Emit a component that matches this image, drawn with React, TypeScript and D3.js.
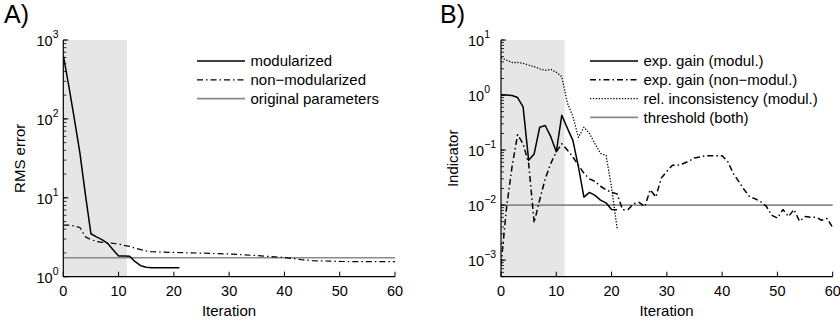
import * as d3 from 'd3';

// Panel A: RMS error per iteration
const modularizedA: [number, number][] = [
  [0, 640], [1, 260], [2, 100], [3, 37], [4, 11], [5, 3.5], [6, 3.2], [7, 2.95], [8, 2.65],
  [9, 2.2], [10, 1.83], [11, 1.83], [12, 1.82], [13, 1.55], [14, 1.38], [15, 1.32], [16, 1.3],
  [17, 1.3], [18, 1.3], [19, 1.3], [20, 1.3], [21, 1.3],
];
const nonModularizedA: [number, number][] = [
  [0, 4.5], [1, 4.5], [2, 4.4], [3, 4.2], [4, 3.2], [5, 2.95], [6, 2.8], [7, 2.72], [8, 2.7],
  [9, 2.65], [10, 2.6], [11, 2.5], [12, 2.42], [13, 2.3], [14, 2.2], [15, 2.12], [16, 2.07],
  [20, 2.03], [25, 1.99], [30, 1.94], [35, 1.85], [40, 1.75], [43, 1.65], [45, 1.6], [50, 1.56],
  [55, 1.55], [60, 1.55],
];
const originalParams = 1.74;

// Panel B: indicators per iteration
const gainModul: [number, number][] = [
  [0, 1.0], [1, 1.0], [2, 0.98], [3, 0.9], [4, 0.61], [5, 0.065], [6, 0.085], [7, 0.26],
  [8, 0.28], [9, 0.175], [10, 0.093], [11, 0.43], [12, 0.25], [13, 0.15], [14, 0.05],
  [15, 0.014], [16, 0.017], [17, 0.015], [18, 0.0123], [19, 0.011], [20, 0.0083], [21, 0.0082],
];
const gainNonModul: [number, number][] = [
  [0, 0.0008], [1, 0.009], [2, 0.05], [3, 0.19], [4, 0.13], [5, 0.057], [6, 0.0048], [7, 0.0125],
  [8, 0.03], [9, 0.057], [10, 0.093], [11, 0.13], [12, 0.1], [13, 0.075], [14, 0.053], [15, 0.038],
  [16, 0.03], [17, 0.027], [18, 0.022], [19, 0.019], [20, 0.017], [21, 0.016], [22, 0.0082],
  [23, 0.0083], [24, 0.0106], [25, 0.0112], [26, 0.0094], [27, 0.019], [28, 0.014], [29, 0.031],
  [30, 0.041], [31, 0.053], [32, 0.053], [33, 0.057], [34, 0.063], [35, 0.072], [36, 0.075],
  [37, 0.079], [38, 0.079], [39, 0.079], [40, 0.079], [41, 0.062], [42, 0.038], [43, 0.027],
  [44, 0.019], [45, 0.014], [46, 0.013], [47, 0.0115], [48, 0.0095], [49, 0.0065], [50, 0.0058],
  [51, 0.0083], [52, 0.0062], [53, 0.0083], [54, 0.0051], [55, 0.0062], [56, 0.006], [57, 0.006],
  [58, 0.0053], [59, 0.0057], [60, 0.0039],
];
const relInconsistency: [number, number][] = [
  [0, 4.8], [1, 4.3], [2, 3.9], [3, 3.9], [4, 3.77], [5, 3.5], [6, 3.27], [7, 3.0], [8, 2.8],
  [9, 2.93], [10, 2.6], [11, 2.15], [12, 0.72], [13, 0.41], [14, 0.17], [15, 0.26], [16, 0.2],
  [17, 0.13], [18, 0.087], [19, 0.08], [20, 0.021], [21, 0.0038],
];
const threshold = 0.01;

const xTicks = [0, 10, 20, 30, 40, 50, 60];
const yExpA = [0, 1, 2, 3];
const yExpB = [-3, -2, -1, 0, 1];
const shadeEnd = 11.5;

const legendA = ['modularized', 'non\u2212modularized', 'original parameters'];
const legendB = ['exp. gain (modul.)', 'exp. gain (non\u2212modul.)', 'rel. inconsistency (modul.)', 'threshold (both)'];

const FONT = 'Liberation Sans, Arial, Helvetica, sans-serif';

type Style = { stroke: string; width: number; dash?: string };
const SOLID: Style = { stroke: '#000', width: 1.5 };
const DASHDOT_A: Style = { stroke: '#000', width: 1.2, dash: '6,3,1.5,3' };
const DASHDOT_B: Style = { stroke: '#000', width: 1.5, dash: '6,3,1.5,3' };
const DOTTED: Style = { stroke: '#000', width: 1.3, dash: '1.3,1.6' };
const GRAY: Style = { stroke: '#8a8a8a', width: 1.6 };

type Series = { data: [number, number][]; style: Style };

function Panel(props: {
  id: string; left: number; right: number; yDomain: [number, number]; yExps: number[];
  labelX: number; tickTextX: number; yLabel: string; yLabelX: number; panelLabel: string; panelX: number;
  series: Series[]; hline: { value: number; style: Style };
  legend: string[]; legendStyles: Style[]; legendX: number;
}) {
  const top = 40, bottom = 276.7;
  const x = d3.scaleLinear().domain([0, 60]).range([props.left, props.right]);
  const y = d3.scaleLog().domain(props.yDomain).range([bottom, top]);
  const line = d3.line<[number, number]>().x(d => x(d[0])).y(d => y(d[1]));
  const minor = y.ticks().filter(v => v >= props.yDomain[0] && v <= props.yDomain[1]);
  return (
    <g>
      <defs>
        <clipPath id={props.id}>
          <rect x={props.left} y={top} width={props.right - props.left + 2} height={bottom - top} />
        </clipPath>
      </defs>
      <text x={props.panelX} y={23} fontSize={25} fontFamily={FONT}>{props.panelLabel}</text>
      <rect x={x(0)} y={top} width={x(shadeEnd) - x(0)} height={bottom - top} fill="#e6e6e6" />
      <g clipPath={`url(#${props.id})`}>
        <line x1={props.left} x2={props.right} y1={y(props.hline.value)} y2={y(props.hline.value)}
          stroke={props.hline.style.stroke} strokeWidth={props.hline.style.width} />
        {props.series.map((s, i) => (
          <path key={i} d={line(s.data) ?? ''} fill="none" stroke={s.style.stroke}
            strokeWidth={s.style.width} strokeDasharray={s.style.dash} strokeLinejoin="round" />
        ))}
      </g>
      {/* axes */}
      <line x1={props.left} x2={props.right} y1={bottom} y2={bottom} stroke="#000" strokeWidth={1.2} />
      <line x1={props.left} x2={props.left} y1={top} y2={bottom} stroke="#000" strokeWidth={1.2} />
      {xTicks.map(t => (
        <g key={t}>
          <line x1={x(t)} x2={x(t)} y1={bottom} y2={bottom - 5} stroke="#000" strokeWidth={1} />
          <text x={x(t)} y={296} textAnchor="middle" fontSize={14.5} fontFamily={FONT}>{t}</text>
        </g>
      ))}
      {minor.map((v, i) => (
        <line key={i} x1={props.left} x2={props.left + 3} y1={y(v)} y2={y(v)} stroke="#000" strokeWidth={0.8} />
      ))}
      {props.yExps.map(e => (
        <g key={e}>
          <line x1={props.left} x2={props.left + 5} y1={y(Math.pow(10, e))} y2={y(Math.pow(10, e))} stroke="#000" strokeWidth={1} />
          <text x={props.tickTextX} y={y(Math.pow(10, e)) + 6} fontSize={14.5} fontFamily={FONT}>
            10<tspan dy={-8} fontSize={10.5}>{e < 0 ? `\u2212${-e}` : `${e}`}</tspan>
          </text>
        </g>
      ))}
      <text x={props.labelX} y={316} textAnchor="middle" fontSize={15} fontFamily={FONT}>Iteration</text>
      <text transform={`translate(${props.yLabelX},${(top + bottom) / 2}) rotate(-90)`} textAnchor="middle"
        fontSize={15} fontFamily={FONT}>{props.yLabel}</text>
      {props.legend.map((l, i) => {
        const ly = 61 + i * 18.8;
        const st = props.legendStyles[i];
        return (
          <g key={l}>
            <line x1={props.legendX} x2={props.legendX + 48} y1={ly} y2={ly} stroke={st.stroke}
              strokeWidth={st.width} strokeDasharray={st.dash} />
            <text x={props.legendX + 53.5} y={ly + 5.3} fontSize={15} fontFamily={FONT}>{l}</text>
          </g>
        );
      })}
    </g>
  );
}

export default function App() {
  return (
    <svg width={840} height={322} style={{ position: 'absolute', left: 0, top: 0, background: '#fff' }}>
      <rect width={840} height={322} fill="#fff" />
      <Panel id="clipA" left={63.3} right={395} yDomain={[1, 1000]} yExps={yExpA}
        labelX={229} tickTextX={36.5} yLabel="RMS error" yLabelX={25} panelLabel="A)" panelX={4}
        series={[{ data: nonModularizedA, style: DASHDOT_A }, { data: modularizedA, style: SOLID }]}
        hline={{ value: originalParams, style: GRAY }}
        legend={legendA} legendStyles={[SOLID, DASHDOT_A, GRAY]} legendX={197} />
      <Panel id="clipB" left={501} right={832.7} yDomain={[5e-4, 10]} yExps={yExpB}
        labelX={666.5} tickTextX={468} yLabel="Indicator" yLabelX={458} panelLabel="B)" panelX={440}
        series={[
          { data: relInconsistency, style: DOTTED },
          { data: gainNonModul, style: DASHDOT_B },
          { data: gainModul, style: SOLID },
        ]}
        hline={{ value: threshold, style: GRAY }}
        legend={legendB} legendStyles={[SOLID, DASHDOT_B, DOTTED, GRAY]} legendX={590} />
    </svg>
  );
}
